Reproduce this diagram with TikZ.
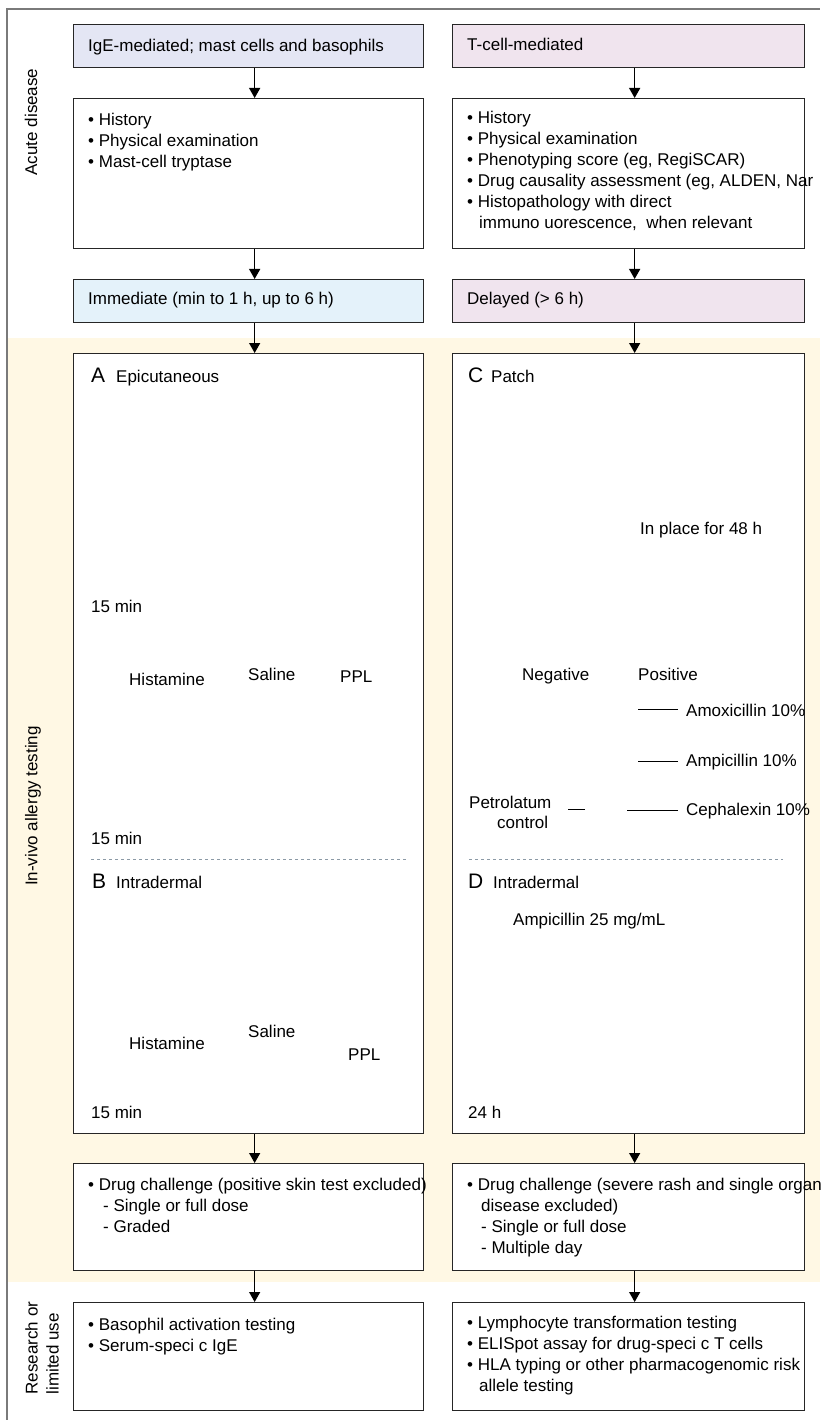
\documentclass[tikz,border=0pt]{standalone}
\usepackage{fontspec}
\setmainfont{Liberation Sans}
\usetikzlibrary{arrows.meta}
\definecolor{igeblue}{HTML}{E4E6F4}
\definecolor{tcellpink}{HTML}{F0E4EE}
\definecolor{immblue}{HTML}{E4F2FA}
\definecolor{vivoyellow}{HTML}{FFF8E4}
\definecolor{framegray}{HTML}{7A7A7A}
\definecolor{sepgray}{HTML}{8C9AA6}
\begin{document}
\begin{tikzpicture}[x=1pt,y=-1pt,font=\fontsize{17}{21}\selectfont,>={Triangle[length=10pt,width=11pt]},
	box/.style={draw=black!85,line width=1.3pt,fill=white,inner sep=0pt,anchor=north west},
	colL/.style={box,minimum width=350pt},
	colR/.style={box,minimum width=352pt},
	txt/.style={inner sep=0pt,anchor=base west,align=left},
	big/.style={txt,font=\fontsize{21}{21}\selectfont},
	lead/.style={line width=0.9pt}]
	\useasboundingbox (0,0) rectangle (820,1420);
	\clip (0,0) rectangle (820,1420);
	% bands and frame
	\fill[vivoyellow] (8,338) rectangle (820,1282);
	\draw[framegray,line width=2pt] (7,1420) -- (7,9) -- (820,9);
	\node[rotate=90] (acute) at (31,122) {Acute disease};
	\node[rotate=90] (invivo) at (33,806) {In-vivo allergy testing};
	\node[rotate=90,align=left] (research) at (42,1348) {Research or\\limited use};
	% boxes
	\node[colL,minimum height=43pt,fill=igeblue] (ige) at (73,24) {};
	\node[colR,minimum height=43pt,fill=tcellpink] (tcell) at (452,24) {};
	\node[colL,minimum height=150pt] (ighist) at (73,98) {};
	\node[colR,minimum height=150pt] (thist) at (452,98) {};
	\node[colL,minimum height=43pt,fill=immblue] (immed) at (73,279) {};
	\node[colR,minimum height=43pt,fill=tcellpink] (delay) at (452,279) {};
	\node[colL,minimum height=780pt] (skinL) at (73,353) {};
	\node[colR,minimum height=780pt] (skinR) at (452,353) {};
	\node[colL,minimum height=107pt] (chalL) at (73,1163) {};
	\node[colR,minimum height=107pt] (chalR) at (452,1163) {};
	\node[colL,minimum height=108pt] (resL) at (73,1302) {};
	\node[colR,minimum height=108pt] (resR) at (452,1302) {};
	\foreach \a/\b in {ige/ighist,ighist/immed,immed/skinL,skinL/chalL,chalL/resL,
		tcell/thist,thist/delay,delay/skinR,skinR/chalR,chalR/resR}
		\draw[->,line width=1.3pt] ([xshift=6pt]\a.south) -- ([xshift=6pt]\b.north);
	% acute disease texts (multi-line nodes sit on their last baseline)
	\node[txt] (igetxt) at (88,52) {IgE-mediated; mast cells and basophils};
	\node[txt] (tcelltxt) at (467,51) {T-cell-mediated};
	\node[txt] (ighisttxt) at (88,168) {• History\\• Physical examination\\• Mast-cell tryptase};
	\node[txt] (thisttxt) at (467,229) {• History\\• Physical examination\\• Phenotyping score (eg, RegiSCAR)\\• Drug causality assessment (eg, ALDEN, Nar\\• Histopathology with direct\\\hspace*{12pt}immuno uorescence, \ when relevant};
	\node[txt] (immedtxt) at (88,305) {Immediate (min to 1 h, up to 6 h)};
	\node[txt] (delaytxt) at (467,305) {Delayed (> 6 h)};
	% panels A and B
	\node[big] (alab) at (91,382) {A};
	\node[txt] (atitle) at (116,382) {Epicutaneous};
	\node[txt] (atime) at (91,612) {15 min};
	\node[txt] (ahist) at (129,685) {Histamine};
	\node[txt] (asal) at (248,680) {Saline};
	\node[txt] (appl) at (340,682) {PPL};
	\node[txt] (atime2) at (91,844) {15 min};
	\draw[sepgray,dashed] (91,859) -- (407,859);
	\node[big] (blab) at (92,888) {B};
	\node[txt] (btitle) at (116,888) {Intradermal};
	\node[txt] (bhist) at (129,1049) {Histamine};
	\node[txt] (bsal) at (248,1037) {Saline};
	\node[txt] (bppl) at (348,1060) {PPL};
	\node[txt] (btime) at (91,1118) {15 min};
	% panels C and D
	\node[big] (clab) at (468,382) {C};
	\node[txt] (ctitle) at (491,382) {Patch};
	\node[txt] (cplace) at (640,534) {In place for 48 h};
	\node[txt] (cneg) at (522,680) {Negative};
	\node[txt] (cpos) at (638,680) {Positive};
	\node[txt] (amox) at (686,716) {Amoxicillin 10\%};
	\node[txt] (ampi) at (686,766) {Ampicillin 10\%};
	\node[txt] (ceph) at (686,815) {Cephalexin 10\%};
	\node[txt] (petro) at (469,808) {Petrolatum};
	\node[txt] (petroctl) at (497,828) {control};
	\coordinate (petroend) at (585,809);
	\draw[lead] ([xshift=-8pt]amox.west) -- ++(-40,0);
	\draw[lead] ([xshift=-8pt]ampi.west) -- ++(-40,0);
	\draw[lead] ([xshift=-8pt]ceph.west) -- ++(-51,0);
	\draw[lead] (petroend) -- ++(-17,0);
	\draw[sepgray,dashed] (469,859) -- (783,859);
	\node[big] (dlab) at (468,888) {D};
	\node[txt] (dtitle) at (493,888) {Intradermal};
	\node[txt] (dampi) at (513,925) {Ampicillin 25 mg/mL};
	\node[txt] (dtime) at (468,1118) {24 h};
	% challenge and research texts
	\node[txt] (chaltxtL) at (88,1232) {• Drug challenge (positive skin test excluded)\\\hspace*{15pt}- Single or full dose\\\hspace*{15pt}- Graded};
	\node[txt] (chaltxtR) at (467,1253) {• Drug challenge (severe rash and single organ\\\hspace*{14pt}disease excluded)\\\hspace*{14pt}- Single or full dose\\\hspace*{14pt}- Multiple day};
	\node[txt] (restxtL) at (88,1351) {• Basophil activation testing\\• Serum-speci c IgE};
	\node[txt] (restxtR) at (467,1391) {• Lymphocyte transformation testing\\• ELISpot assay for drug-speci c T cells\\• HLA typing or other pharmacogenomic risk\\\hspace*{12pt}allele testing};
\end{tikzpicture}
\end{document}
